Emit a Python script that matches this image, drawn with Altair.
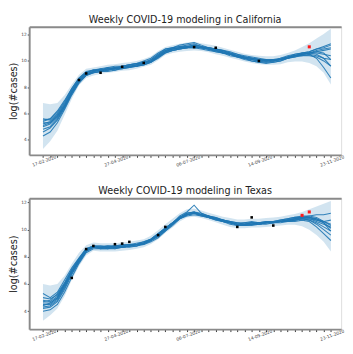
import altair as alt
import pandas as pd

# weekly dates (17-02-2020 ... 23-11-2020)
weeks = pd.date_range("2020-02-17", periods=41, freq="7D")
week_str = list(weeks.strftime("%Y-%m-%dT%H:%M:%S"))
tick_labels = ["17-02-2020", "27-04-2020", "06-07-2020", "14-09-2020", "23-11-2020"]
y_ticks = [4, 6, 8, 10, 12]

# ---------------- California ----------------
ca_series = [
    [5.5, 5.6, 6.1, 6.9, 7.9, 8.7, 9.1, 9.3, 9.3, 9.5, 9.4, 9.6, 9.7, 9.8, 9.9, 10.1, 10.5, 10.9, 11.0, 11.1, 11.2, 11.3, 11.1, 11.0, 10.9, 10.8, 10.6, 10.5, 10.3, 10.2, 10.1, 10.1, 10.0, 10.2, 10.3, 10.5, 10.6, 10.7, 10.9, 11.1, 11.3],
    [5.3, 5.3, 5.8, 6.6, 7.6, 8.5, 9.0, 9.2, 9.4, 9.3, 9.5, 9.5, 9.6, 9.6, 9.8, 9.9, 10.3, 10.7, 10.9, 11.0, 11.0, 11.1, 11.0, 10.9, 10.8, 10.6, 10.5, 10.3, 10.2, 10.1, 10.0, 9.9, 10.0, 10.1, 10.2, 10.4, 10.5, 10.6, 10.5, 10.2, 9.6],
    [4.3, 4.6, 5.3, 6.3, 7.4, 8.3, 8.9, 9.1, 9.2, 9.3, 9.4, 9.4, 9.5, 9.6, 9.7, 9.9, 10.2, 10.6, 10.8, 10.9, 11.0, 11.0, 11.0, 10.9, 10.8, 10.7, 10.5, 10.4, 10.2, 10.1, 10.0, 10.0, 10.1, 10.1, 10.3, 10.4, 10.4, 10.5, 10.2, 9.5, 8.7],
    [5.0, 5.2, 5.7, 6.5, 7.5, 8.4, 8.9, 9.2, 9.3, 9.3, 9.4, 9.5, 9.6, 9.7, 9.8, 10.0, 10.4, 10.8, 10.9, 11.0, 11.1, 11.2, 11.1, 11.0, 10.9, 10.8, 10.6, 10.4, 10.3, 10.2, 10.1, 10.0, 10.1, 10.1, 10.3, 10.4, 10.6, 10.7, 10.9, 11.0, 11.2],
    [5.6, 5.5, 6.0, 6.8, 7.8, 8.6, 9.1, 9.3, 9.3, 9.4, 9.5, 9.6, 9.7, 9.8, 9.8, 10.1, 10.5, 10.8, 11.0, 11.1, 11.1, 11.2, 11.1, 10.9, 10.8, 10.6, 10.5, 10.4, 10.3, 10.2, 10.1, 10.0, 10.0, 10.1, 10.2, 10.4, 10.5, 10.6, 10.7, 10.8, 10.9],
    [4.8, 5.0, 5.6, 6.5, 7.6, 8.5, 9.0, 9.1, 9.2, 9.4, 9.4, 9.5, 9.5, 9.7, 9.9, 10.0, 10.3, 10.6, 10.8, 10.9, 11.0, 11.1, 11.0, 10.9, 10.7, 10.6, 10.5, 10.3, 10.2, 10.0, 9.9, 9.9, 9.9, 10.0, 10.2, 10.3, 10.4, 10.4, 10.3, 10.0, 9.6],
    [5.4, 5.6, 6.2, 7.0, 7.9, 8.7, 9.2, 9.3, 9.4, 9.5, 9.6, 9.6, 9.7, 9.8, 10.0, 10.2, 10.6, 10.9, 11.0, 11.2, 11.3, 11.4, 11.2, 11.0, 10.9, 10.8, 10.7, 10.5, 10.4, 10.3, 10.2, 10.1, 10.1, 10.2, 10.4, 10.5, 10.6, 10.6, 10.6, 10.5, 10.4],
    [5.2, 5.4, 5.9, 6.7, 7.7, 8.6, 9.0, 9.2, 9.3, 9.4, 9.3, 9.5, 9.6, 9.6, 9.8, 10.0, 10.4, 10.7, 10.9, 11.0, 11.0, 11.1, 11.0, 10.9, 10.8, 10.7, 10.5, 10.4, 10.2, 10.1, 10.0, 10.0, 10.0, 10.1, 10.2, 10.4, 10.5, 10.6, 10.7, 10.6, 10.1],
    [4.6, 4.9, 5.5, 6.4, 7.5, 8.4, 8.9, 9.1, 9.2, 9.2, 9.3, 9.4, 9.5, 9.6, 9.7, 9.9, 10.3, 10.7, 10.8, 10.9, 11.0, 11.0, 10.9, 10.8, 10.7, 10.6, 10.4, 10.3, 10.1, 10.0, 9.9, 9.8, 9.9, 10.0, 10.2, 10.3, 10.5, 10.6, 10.8, 10.9, 11.0],
    [5.1, 5.3, 5.8, 6.6, 7.7, 8.5, 9.0, 9.2, 9.3, 9.4, 9.5, 9.5, 9.6, 9.7, 9.9, 10.0, 10.4, 10.8, 10.9, 11.0, 11.1, 11.1, 11.0, 11.0, 10.9, 10.7, 10.6, 10.4, 10.3, 10.2, 10.1, 10.0, 10.1, 10.1, 10.3, 10.4, 10.5, 10.5, 10.4, 10.2, 10.1],
]
ca_lower = [3.3, 3.9, 4.7, 5.9, 7.1, 8.15, 8.7, 8.9, 9.0, 9.1, 9.15, 9.25, 9.3, 9.4, 9.55, 9.7, 10.05, 10.45, 10.6, 10.7, 10.75, 10.8, 10.75, 10.65, 10.5, 10.4, 10.25, 10.1, 9.95, 9.85, 9.75, 9.7, 9.7, 9.75, 9.9, 9.95, 9.95, 9.85, 9.6, 9.1, 8.2]
ca_upper = [6.8, 6.7, 6.8, 7.4, 8.2, 8.95, 9.4, 9.5, 9.6, 9.7, 9.75, 9.85, 9.9, 10.0, 10.15, 10.35, 10.75, 11.05, 11.2, 11.3, 11.4, 11.45, 11.35, 11.25, 11.15, 11.0, 10.85, 10.7, 10.55, 10.45, 10.4, 10.35, 10.35, 10.45, 10.6, 10.8, 11.05, 11.35, 11.7, 12.05, 12.45]
ca_obs_week = [5, 6, 8, 11, 14, 21, 24, 30]
ca_obs_val = [8.55, 9.05, 9.1, 9.55, 9.85, 11.05, 11.0, 10.0]
ca_red_week = [37]
ca_red_val = [11.07]

# ---------------- Texas ----------------
tx_series = [
    [4.8, 4.7, 5.1, 6.0, 7.0, 7.8, 8.5, 8.8, 8.7, 8.8, 8.7, 8.8, 8.9, 8.9, 9.0, 9.3, 9.7, 10.1, 10.5, 10.9, 11.2, 11.3, 11.1, 11.0, 10.8, 10.7, 10.5, 10.4, 10.5, 10.5, 10.4, 10.5, 10.6, 10.6, 10.7, 10.8, 10.9, 11.0, 11.1, 11.1, 11.2],
    [4.2, 4.3, 4.7, 5.6, 6.7, 7.6, 8.4, 8.7, 8.6, 8.6, 8.7, 8.7, 8.8, 8.8, 9.0, 9.2, 9.5, 10.0, 10.4, 10.8, 11.1, 11.2, 11.1, 10.9, 10.8, 10.6, 10.5, 10.4, 10.3, 10.4, 10.5, 10.5, 10.5, 10.6, 10.6, 10.7, 10.8, 10.7, 10.4, 10.0, 9.6],
    [5.3, 5.0, 5.4, 6.3, 7.2, 7.9, 8.6, 8.8, 8.8, 8.7, 8.8, 8.8, 8.8, 8.9, 9.1, 9.3, 9.6, 10.1, 10.5, 11.0, 11.3, 11.8, 11.2, 11.0, 10.9, 10.7, 10.6, 10.5, 10.4, 10.5, 10.5, 10.6, 10.6, 10.7, 10.8, 10.9, 10.9, 10.9, 10.8, 10.6, 10.4],
    [4.5, 4.5, 4.9, 5.8, 6.8, 7.7, 8.5, 8.7, 8.7, 8.7, 8.6, 8.7, 8.8, 8.9, 8.9, 9.2, 9.6, 10.0, 10.4, 10.9, 11.1, 11.2, 11.1, 10.9, 10.8, 10.6, 10.5, 10.4, 10.4, 10.4, 10.4, 10.5, 10.5, 10.6, 10.7, 10.7, 10.8, 10.8, 10.6, 10.4, 10.2],
    [4.0, 4.1, 4.5, 5.4, 6.5, 7.5, 8.3, 8.6, 8.6, 8.6, 8.6, 8.7, 8.7, 8.8, 8.9, 9.1, 9.4, 9.9, 10.3, 10.8, 11.0, 11.1, 11.0, 10.9, 10.7, 10.6, 10.4, 10.3, 10.3, 10.3, 10.4, 10.4, 10.5, 10.5, 10.6, 10.6, 10.7, 10.6, 10.2, 9.7, 9.2],
    [4.7, 4.8, 5.3, 6.1, 7.1, 7.9, 8.6, 8.8, 8.8, 8.8, 8.8, 8.9, 8.9, 9.0, 9.1, 9.3, 9.7, 10.1, 10.5, 10.9, 11.2, 11.3, 11.2, 11.0, 10.9, 10.7, 10.6, 10.5, 10.5, 10.6, 10.5, 10.6, 10.6, 10.7, 10.8, 10.9, 11.0, 11.0, 10.9, 10.6, 10.3],
    [4.4, 4.6, 5.0, 5.9, 6.9, 7.7, 8.4, 8.7, 8.7, 8.6, 8.7, 8.7, 8.8, 8.9, 9.0, 9.2, 9.6, 10.0, 10.4, 10.9, 11.1, 11.2, 11.1, 10.9, 10.8, 10.6, 10.5, 10.4, 10.4, 10.5, 10.4, 10.5, 10.5, 10.6, 10.7, 10.8, 10.8, 10.7, 10.5, 10.2, 9.9],
    [5.0, 4.9, 5.2, 6.0, 7.0, 7.8, 8.5, 8.8, 8.7, 8.8, 8.8, 8.8, 8.9, 8.9, 9.0, 9.3, 9.6, 10.1, 10.5, 10.9, 11.2, 11.3, 11.1, 11.0, 10.8, 10.7, 10.6, 10.4, 10.4, 10.4, 10.5, 10.5, 10.6, 10.6, 10.7, 10.8, 10.9, 10.9, 10.7, 10.5, 10.1],
    [4.3, 4.4, 4.8, 5.7, 6.8, 7.6, 8.4, 8.7, 8.6, 8.7, 8.7, 8.7, 8.8, 8.8, 9.0, 9.2, 9.5, 9.9, 10.4, 10.8, 11.1, 11.2, 11.0, 10.9, 10.7, 10.6, 10.5, 10.3, 10.3, 10.4, 10.4, 10.5, 10.5, 10.6, 10.6, 10.7, 10.8, 10.8, 10.7, 10.6, 10.7],
    [4.6, 4.6, 5.0, 5.9, 6.9, 7.8, 8.5, 8.7, 8.7, 8.7, 8.8, 8.8, 8.8, 8.9, 9.0, 9.3, 9.7, 10.1, 10.5, 10.9, 11.1, 11.2, 11.1, 11.0, 10.8, 10.7, 10.5, 10.4, 10.4, 10.5, 10.5, 10.5, 10.6, 10.6, 10.7, 10.8, 10.9, 10.9, 10.8, 10.5, 9.9],
]
tx_lower = [3.3, 3.7, 4.2, 5.1, 6.3, 7.3, 8.1, 8.45, 8.4, 8.4, 8.4, 8.45, 8.5, 8.6, 8.7, 8.95, 9.3, 9.75, 10.15, 10.6, 10.9, 10.95, 10.85, 10.7, 10.55, 10.35, 10.2, 10.1, 10.1, 10.15, 10.15, 10.2, 10.25, 10.3, 10.35, 10.35, 10.25, 10.0, 9.6, 9.1, 8.4]
tx_upper = [6.0, 5.9, 6.0, 6.6, 7.5, 8.3, 8.85, 9.05, 9.0, 9.0, 9.0, 9.05, 9.1, 9.2, 9.3, 9.55, 9.95, 10.4, 10.8, 11.2, 11.5, 11.55, 11.4, 11.25, 11.1, 10.95, 10.85, 10.75, 10.75, 10.8, 10.8, 10.85, 10.9, 10.95, 11.05, 11.15, 11.3, 11.5, 11.7, 11.9, 12.1]
tx_obs_week = [4, 6, 7, 10, 11, 12, 16, 17, 27, 29, 32]
tx_obs_val = [6.45, 8.57, 8.8, 8.93, 8.97, 9.1, 9.6, 10.2, 10.2, 10.9, 10.3]
tx_red_week = [36, 37]
tx_red_val = [11.05, 11.3]

BLUE = "#1f77b4"
FONT = "DejaVu Sans"
X_DOMAIN = [alt.DateTime(year=2020, month=2, date=3, hours=14),
            alt.DateTime(year=2020, month=12, date=3)]
tick_values = [alt.DateTime(year=int(d.year), month=int(d.month), date=int(d.day)) for d in weeks]
label_list = "[" + ",".join("'%s'" % t for t in tick_labels) + "]"


def panel(title, series, lower, upper, obs_w, obs_v, red_w, red_v, ydom, height):
    line_rows = []
    for k, s in enumerate(series):
        for i, v in enumerate(s):
            line_rows.append({"date": week_str[i], "value": v, "run": k})
    lines_df = pd.DataFrame(line_rows)
    band_df = pd.DataFrame({"date": week_str, "lo": lower, "hi": upper})
    obs_df = pd.DataFrame({"date": [week_str[w] for w in obs_w], "value": obs_v})
    red_df = pd.DataFrame({"date": [week_str[w] for w in red_w], "value": red_v})

    xscale = alt.Scale(domain=X_DOMAIN)
    yscale = alt.Scale(domain=ydom, nice=False, zero=False)
    yaxis = alt.Axis(values=y_ticks, tickSize=2, labelFontSize=4.5, labelPadding=1,
                     labelColor="#444", tickColor="#333", domainColor="#8a8a8a",
                     domainWidth=2, grid=False, title="log(#cases)", titleFontSize=10,
                     titleFontWeight="normal", titleColor="#222", titlePadding=2,
                     titleFont=FONT, labelFont=FONT)
    xaxis_bottom = alt.Axis(values=tick_values, format="%d-%m-%Y",
                            labelExpr="indexof(%s, datum.label) >= 0 ? datum.label : ''" % label_list,
                            labelAngle=-20, labelAlign="center", labelBaseline="top",
                            labelFontSize=4.5, labelPadding=1, labelColor="#444",
                            labelOverlap=False, labelFlush=False, tickSize=2.5,
                            tickColor="#333", domainColor="#8a8a8a", domainWidth=2,
                            grid=False, title=None, labelFont=FONT)
    xaxis_top = alt.Axis(orient="top", labels=False, ticks=False, domain=True,
                         domainColor="#8a8a8a", domainWidth=2, grid=False, title=None)

    band = alt.Chart(band_df).mark_area(color=BLUE, opacity=0.2).encode(
        x=alt.X("date:T", scale=xscale, axis=xaxis_bottom),
        y=alt.Y("lo:Q", scale=yscale, axis=yaxis),
        y2="hi:Q",
    )
    lines = alt.Chart(lines_df).mark_line(color=BLUE, strokeWidth=1.1, opacity=0.9).encode(
        x=alt.X("date:T", scale=xscale, axis=xaxis_top),
        y=alt.Y("value:Q", scale=yscale, axis=yaxis),
        detail="run:N",
    )
    obs = alt.Chart(obs_df).mark_square(color="black", size=7, opacity=1).encode(
        x=alt.X("date:T", scale=xscale, axis=None),
        y=alt.Y("value:Q", scale=yscale, axis=yaxis),
    )
    red = alt.Chart(red_df).mark_square(color="#ff1a1a", size=10, opacity=1).encode(
        x=alt.X("date:T", scale=xscale, axis=None),
        y=alt.Y("value:Q", scale=yscale, axis=yaxis),
    )
    return alt.layer(band, lines, obs, red).resolve_axis(x="independent").properties(
        width=324, height=height,
        title=alt.TitleParams(title, fontSize=10, fontWeight="normal", font=FONT,
                              color="#222", offset=2, anchor="middle"),
    )


top = panel("Weekly COVID-19 modeling in California", ca_series, ca_lower, ca_upper,
            ca_obs_week, ca_obs_val, ca_red_week, ca_red_val, [2.86, 12.59], 133)
bottom = panel("Weekly COVID-19 modeling in Texas", tx_series, tx_lower, tx_upper,
               tx_obs_week, tx_obs_val, tx_red_week, tx_red_val, [2.68, 12.31], 136)

chart = alt.vconcat(top, bottom, spacing=19).properties(
    padding={"left": 0, "top": 0, "right": 0, "bottom": 0}
).configure_view(stroke=None).configure(font=FONT)

chart.save("out.html", embed_options={"renderer": "svg", "actions": False})
